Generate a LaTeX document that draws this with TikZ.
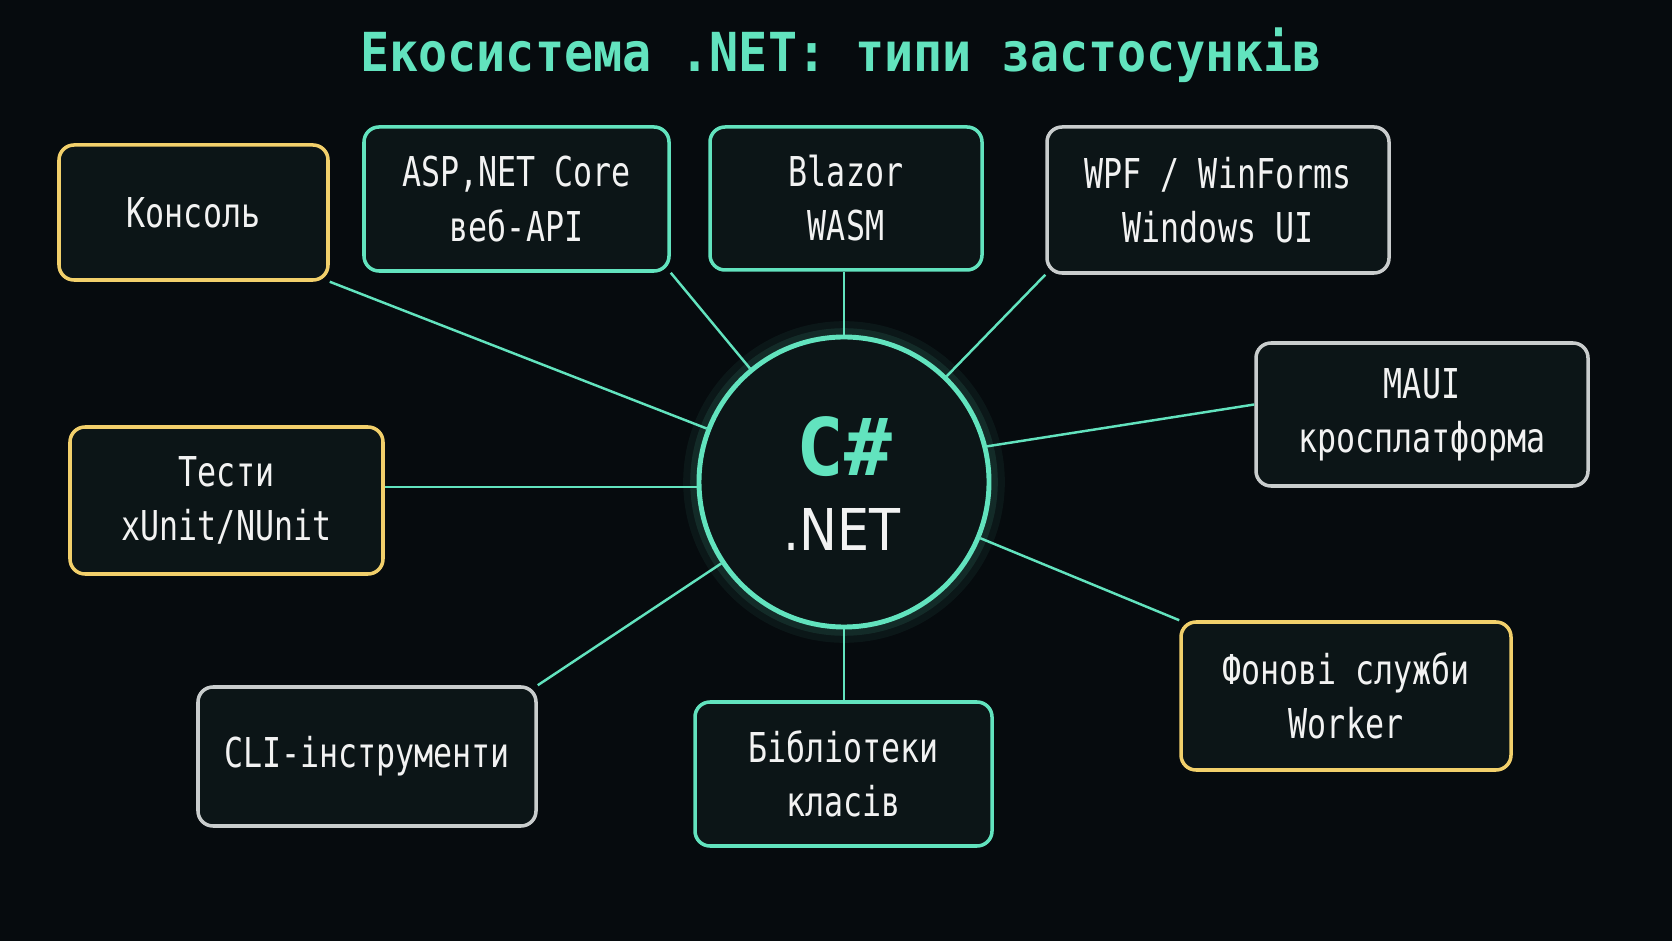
\documentclass[tikz,border=0pt]{standalone}
\usepackage{fontspec}
\usepackage{xcolor}
\setmainfont{DejaVu Sans Mono}
\newfontfamily\titlefont[FakeStretch=0.9]{DejaVu Sans Mono}
\newfontfamily\boxfont[FakeStretch=0.77]{DejaVu Sans Mono}
\newfontfamily\netfont[FakeStretch=0.88]{DejaVu Sans}
\definecolor{nightbg}{HTML}{060B0E}
\definecolor{cardfill}{HTML}{0C1517}
\definecolor{mintteal}{HTML}{62E3BE}
\definecolor{warmyellow}{HTML}{F2D06B}
\definecolor{softgrey}{HTML}{C9CDCD}
\definecolor{labelwhite}{HTML}{F2F2F2}

\begin{document}
\begin{tikzpicture}[
  card/.style={draw, fill=cardfill, rounded corners=0.15cm, line width=1pt,
    inner sep=0pt, align=center, text=labelwhite,
    font=\boxfont\fontsize{11.7}{15.4}\selectfont},
  tealcard/.style={card, draw=mintteal},
  yellowcard/.style={card, draw=warmyellow},
  greycard/.style={card, draw=softgrey},
  link/.style={draw=mintteal, line width=0.7pt}
]
\useasboundingbox (0,0) rectangle (16.72,9.41);
\fill[nightbg] (0,0) rectangle (16.72,9.41);

% title
\node[text=mintteal, font=\titlefont\bfseries\fontsize{15.3}{18}\selectfont] (title) at (8.41,8.86) {Екосистема .NET: типи застосунків};

% glow round the core
\draw[mintteal, opacity=0.06, line width=9pt] (8.44,4.59) circle (1.45);
\draw[mintteal, opacity=0.10, line width=5pt] (8.44,4.59) circle (1.45);
\node[circle, draw=mintteal, fill=cardfill, line width=1.4pt, minimum size=2.9cm, inner sep=0pt] (core) at (8.44,4.59) {};
\node[text=mintteal, font=\bfseries\fontsize{22.6}{26}\selectfont] (csharp) at (8.44,4.94) {C\#};
\node[text=labelwhite, font=\netfont\fontsize{16.4}{20}\selectfont] (dotnet) at (8.42,4.12) {.NET};

% application types
\node[yellowcard, minimum width=2.69cm, minimum height=1.35cm] (kons) at (1.935,7.285) {Консоль};
\node[tealcard, minimum width=3.05cm, minimum height=1.44cm] (asp) at (5.165,7.42) {ASP,NET Core\\веб-API};
\node[tealcard, minimum width=2.72cm, minimum height=1.43cm] (blazor) at (8.46,7.425) {Blazor\\WASM};
\node[greycard, minimum width=3.42cm, minimum height=1.46cm] (wpf) at (12.18,7.41) {WPF / WinForms\\Windows UI};
\node[greycard, minimum width=3.32cm, minimum height=1.43cm] (maui) at (14.22,5.265) {MAUI\\кросплатформа};
\node[yellowcard, minimum width=3.13cm, minimum height=1.47cm] (tests) at (2.265,4.405) {Тести\\xUnit/NUnit};
\node[greycard, minimum width=3.38cm, minimum height=1.39cm] (cli) at (3.67,1.845) {CLI-інструменти};
\node[tealcard, minimum width=2.97cm, minimum height=1.44cm] (lib) at (8.435,1.67) {Бібліотеки\\класів};
\node[yellowcard, minimum width=3.30cm, minimum height=1.48cm] (bg) at (13.46,2.45) {Фонові служби\\Worker};

% spokes
\draw[link] (core) -- (kons.south east);
\draw[link] (core) -- (asp.south east);
\draw[link] (core.north) -- (core.north |- blazor.south);
\draw[link] (core) -- (wpf.south west);
\draw[link] (core.14) -- ([yshift=0.1cm]maui.west);
\draw[link] (core.182) -- (core.182 -| tests.east);
\draw[link] (core) -- (cli.north east);
\draw[link] (core.south) -- (core.south |- lib.north);
\draw[link] (core) -- (bg.north west);
\end{tikzpicture}
\end{document}
